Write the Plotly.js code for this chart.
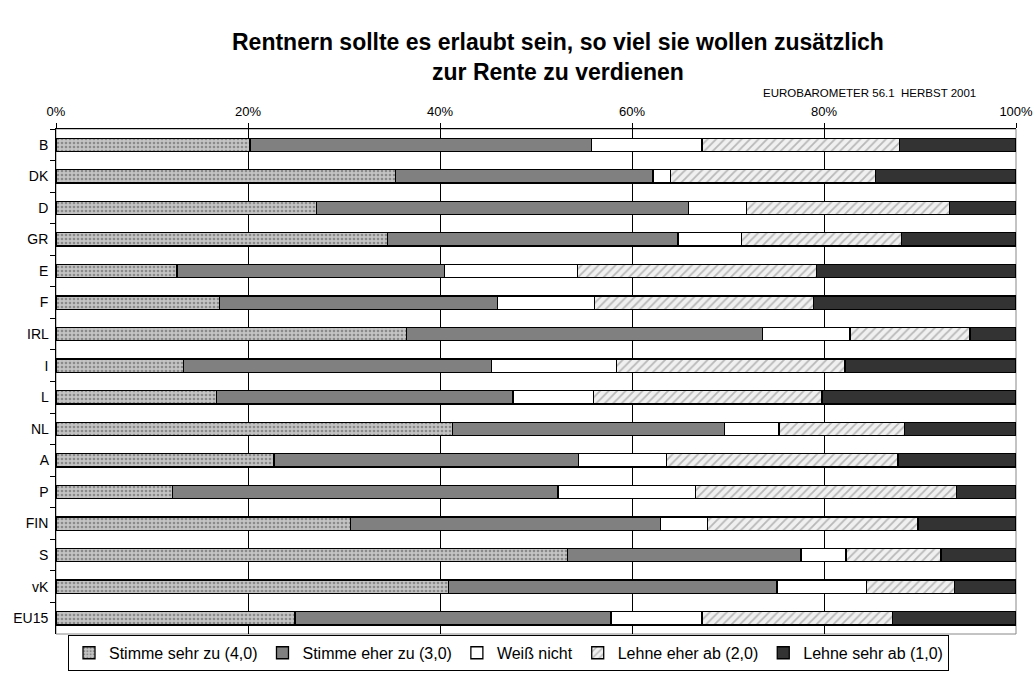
<!DOCTYPE html>
<html>
<head>
<meta charset="utf-8">
<script src="https://cdn.plot.ly/plotly-3.0.1.min.js"></script>
<style>html,body{margin:0;padding:0;background:#fff;}#chart{width:1034px;height:673px;}</style>
</head>
<body>
<div id="chart"></div>
<script>
const countries = ["B","DK","D","GR","E","F","IRL","I","L","NL","A","P","FIN","S","vK","EU15"];
const seriesNames = ["Stimme sehr zu (4,0)","Stimme eher zu (3,0)","Weiß nicht","Lehne eher ab (2,0)","Lehne sehr ab (1,0)"];
const stimmeSehrZu = [20.2,35.4,27.1,34.5,12.6,17.0,36.5,13.3,16.7,41.3,22.7,12.1,30.7,53.3,40.9,24.9];
const stimmeEherZu = [35.6,26.8,38.8,30.3,27.9,29.0,37.1,32.1,30.9,28.3,31.7,40.2,32.3,24.3,34.2,32.9];
const weissNicht   = [11.5,1.8,6.0,6.6,13.8,10.1,9.1,13.0,8.4,5.7,9.2,14.3,4.9,4.7,9.3,9.5];
const lehneEherAb  = [20.6,21.4,21.2,16.7,24.9,22.8,12.5,23.8,23.8,13.1,24.1,27.2,21.9,9.9,9.2,19.8];
const lehneSehrAb  = [12.1,14.6,6.9,11.9,20.8,21.1,4.8,17.8,20.2,11.6,12.3,6.2,10.2,7.8,6.4,12.9];
const xTickVals = [0,20,40,60,80,100];
const xTickText = ["0%","20%","40%","60%","80%","100%"];
const titleText = "Rentnern sollte es erlaubt sein, so viel sie wollen zusätzlich<br>zur Rente zu verdienen";
const subtitle = "EUROBAROMETER 56.1  HERBST 2001";

const allValues = [stimmeSehrZu, stimmeEherZu, weissNicht, lehneEherAb, lehneSehrAb];
const styles = [
  {color:"#b9b9b9", pattern:{shape:".", bgcolor:"#c4c4c4", fgcolor:"#8a8a8a", size:4, solidity:0.35}},
  {color:"#808080"},
  {color:"#ffffff"},
  {color:"#eeeeee", pattern:{shape:"/", bgcolor:"#f0f0f0", fgcolor:"#b8b8b8", size:6, solidity:0.3}},
  {color:"#333333"}
];

const traces = allValues.map((vals, i) => {
  const m = {color: styles[i].color, line:{color:"#000", width:1.3}};
  if (styles[i].pattern) m.pattern = styles[i].pattern;
  return {
    type:"bar", orientation:"h", name: seriesNames[i],
    y: countries, x: vals, marker: m, hoverinfo:"skip"
  };
});

const F = "Liberation Sans, Arial, sans-serif";
const layout = {
  width:1034, height:673,
  margin:{l:56, r:18, t:129, b:39, autoexpand:false},
  paper_bgcolor:"#fff", plot_bgcolor:"#fff",
  barmode:"stack", bargap:0.58,
  font:{family:F, size:13, color:"#000"},
  xaxis:{side:"top", range:[0,100], tickvals:xTickVals, ticktext:xTickText, showgrid:true,
    gridcolor:"#000", gridwidth:1, showline:true, linecolor:"#000", linewidth:1,
    ticks:"outside", ticklen:5, tickcolor:"#000", ticklabelstandoff:2,
    tickfont:{family:F, size:13}, zeroline:false, fixedrange:true},
  yaxis:{autorange:"reversed", type:"category", showline:true, linecolor:"#000", linewidth:1,
    ticks:"outside", ticklen:5, tickson:"boundaries", tickcolor:"#000", tickfont:{family:F, size:14},
    showgrid:false, zeroline:false, fixedrange:true, ticksuffix:" "},
  showlegend:true,
  legend:{orientation:"h", x:0.0125, xanchor:"left", y:-0.073, yanchor:"bottom",
    bordercolor:"#000", borderwidth:1, bgcolor:"#fff", font:{family:F, size:16},
    itemwidth:30, traceorder:"normal"},
  shapes:[
    {type:"rect", xref:"paper", yref:"paper", x0:0, x1:1, y0:0, y1:1, line:{color:"#888", width:1}, layer:"below"}
  ],
  annotations:[
    {text:"<b>"+titleText+"</b>", xref:"paper", yref:"paper", x:0.523, xanchor:"center",
     y:1.1426, yanchor:"middle", showarrow:false, font:{family:F, size:23, color:"#000"}},
    {text:subtitle, xref:"paper", yref:"paper", x:0.96, xanchor:"right",
     y:1.0705, yanchor:"middle", showarrow:false, font:{family:F, size:11.5, color:"#000"}}
  ]
};
Plotly.newPlot("chart", traces, layout, {staticPlot:true, displayModeBar:false});
</script>
</body>
</html>
